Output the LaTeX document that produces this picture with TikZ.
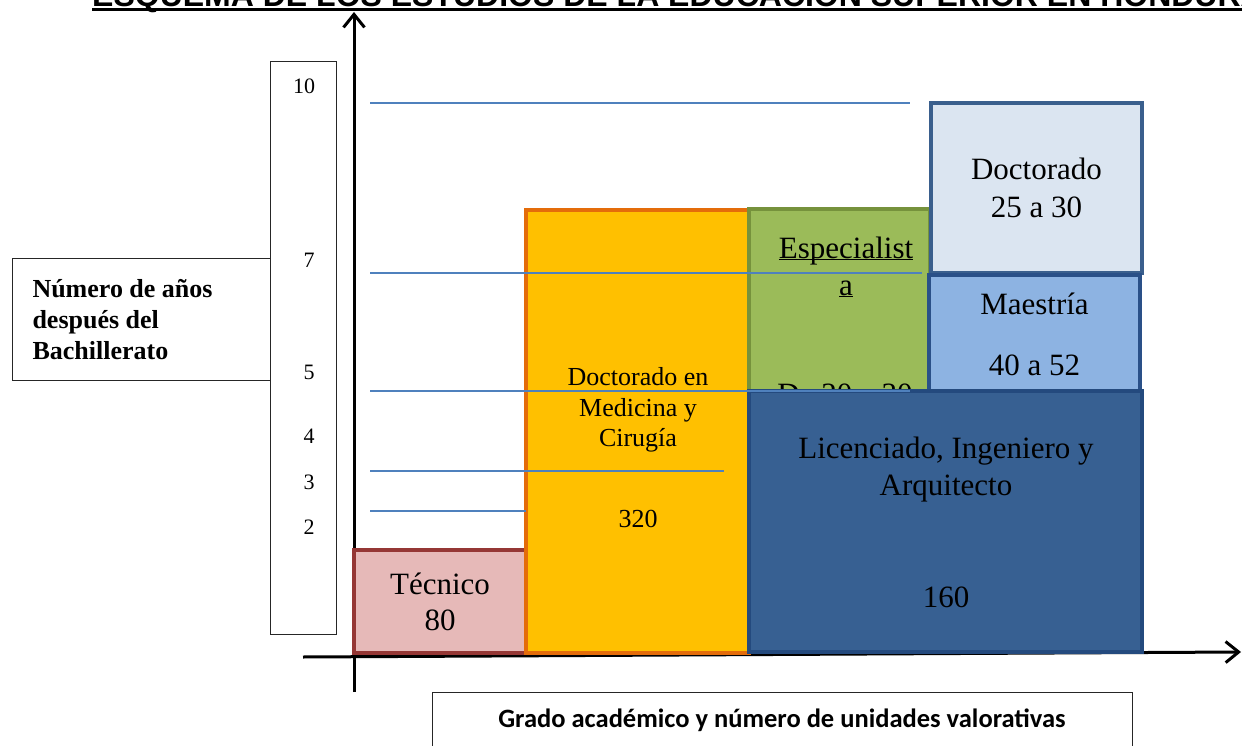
\documentclass[tikz,border=0pt]{standalone}
\usepackage{fontspec}
\setmainfont{Liberation Serif}
\newfontfamily\titlefont{Liberation Sans}
\newfontfamily\captionfont{Carlito}
\usetikzlibrary{arrows.meta}
\usetikzlibrary{positioning}
\newcommand\pxfont[2]{\fontsize{#1}{#2}\selectfont}
\newcommand\lineunder[1]{\underline{\raisebox{0pt}[\height][0pt]{#1}}}

\definecolor{tecfill}{HTML}{E6B9B8}
\definecolor{tecdraw}{HTML}{953735}
\definecolor{medfill}{HTML}{FFC000}
\definecolor{meddraw}{HTML}{E46C0A}
\definecolor{espfill}{HTML}{9BBB59}
\definecolor{espdraw}{HTML}{76923C}
\definecolor{docfill}{HTML}{DBE5F1}
\definecolor{docdraw}{HTML}{3A5F8D}
\definecolor{maefill}{HTML}{8DB3E2}
\definecolor{maedraw}{HTML}{2A5088}
\definecolor{licfill}{HTML}{376092}
\definecolor{licdraw}{HTML}{244A7E}
\definecolor{lineblue}{HTML}{4F81BD}

\begin{document}
\begin{tikzpicture}[
    x=1pt, y=-1pt,
    >={Straight Barb[length=13pt, width=21pt]},
    axis/.style = {
        line width=3pt,
        ->
      },
    grade/.style = {
        rectangle,
        anchor=north west,
        line width=4pt,
        inner sep=0pt,
        outer sep=0pt,
        align=center,
        font=\pxfont{31}{38}
      },
    plain/.style = {
        rectangle,
        anchor=north west,
        draw=black!85,
        line width=1pt,
        inner sep=0pt
      },
    yearline/.style = {
        draw=lineblue,
        line width=1.5pt
      },
    big/.style = {
        align=center,
        font=\pxfont{31}{37}
      },
    ]
    \useasboundingbox (0,0) rectangle (1242,746);

    % title, cut by the top edge
    \node (title) [anchor=base west, inner sep=0pt, font=\titlefont\bfseries\pxfont{32}{38}] at (92,7)
      {ESQUEMA DE LOS ESTUDIOS DE LA EDUCACIÓN SUPERIOR EN HONDURAS};
    \draw [line width=3pt] ([yshift=-3pt]title.base west) -- ([yshift=-3pt]title.base east);

    % years scale
    \node (ylabel) [plain, minimum height=122, text width=218, inner xsep=20, align=flush left,
      font=\bfseries\pxfont{26}{31}] at (12,258) {Número de años\\después del\\Bachillerato};
    \node (scale) [plain, minimum width=66, minimum height=573] at (270,61) {};
    \foreach \yr/\xpos/\ypos in {10/304/86, 7/309/260, 5/309/372, 4/309/436, 3/309/482, 2/309/527}
      \node (year \yr) [font=\pxfont{22}{26}] at (\xpos,\ypos) {\yr};

    % axes
    \coordinate (ybottom) at (354,692);
    \coordinate (ytop) at (354,12);
    \coordinate (xleft) at (303,657);
    \coordinate (xright) at (1241,652);
    \draw [axis] (ybottom) -- (ytop);
    \draw [axis] (xleft) -- (xright);

    % grades
    \node (tecnico) [grade, fill=tecfill, draw=tecdraw, minimum width=172, minimum height=103,
      font=\pxfont{31}{36}] at (354,550) {Técnico\\80};
    \node (medicina) [grade, fill=medfill, draw=meddraw, minimum width=223, minimum height=443] at (526,210) {};
    \node (medicina text) [align=center, font=\pxfont{26}{30.5}] at (638,410) {Doctorado en\\Medicina y\\Cirugía};
    \node (medicina uv) [font=\pxfont{26}{30}] at (638,519) {320};
    \node (especialista) [grade, fill=espfill, draw=espdraw, minimum width=181, minimum height=182] at (749,209) {};
    \node (especialista text) [big] at (846,267) {\lineunder{Especialist}\\\lineunder{a}};
    \node (especialista uv) [font=\pxfont{31}{37}] at (845,394) {De 20 a 30};
    \node (doctorado) [grade, fill=docfill, draw=docdraw, minimum width=211, minimum height=170]
      at (931,103) {Doctorado\\25 a 30};
    \node (maestria) [grade, fill=maefill, draw=maedraw, minimum width=211, minimum height=118,
      font=\pxfont{31}{61}] at (929,275) {Maestría\\40 a 52};
    \node (licenciado) [grade, fill=licfill, draw=licdraw, minimum width=393, minimum height=261] at (749,391) {};
    \node (licenciado text) [big] at (946,470) {Licenciado, Ingeniero y\\Arquitecto};
    \node (licenciado uv) [font=\pxfont{31}{37}] at (946,597) {160};

    % blue year lines over the boxes
    \foreach \ya/\xb in {103/910, 273/922, 391/910, 471/724, 511/526}
      \draw [yearline] (370,\ya) -- (\xb,\ya);

    % caption below, cut by the bottom edge
    \node (xlabel) [plain, minimum width=700, minimum height=80] at (432,692) {};
    \node (xlabel text) [font=\captionfont\bfseries\pxfont{26.5}{30}] at (782,720)
      {Grado académico y número de unidades valorativas};
  \end{tikzpicture}
\end{document}
